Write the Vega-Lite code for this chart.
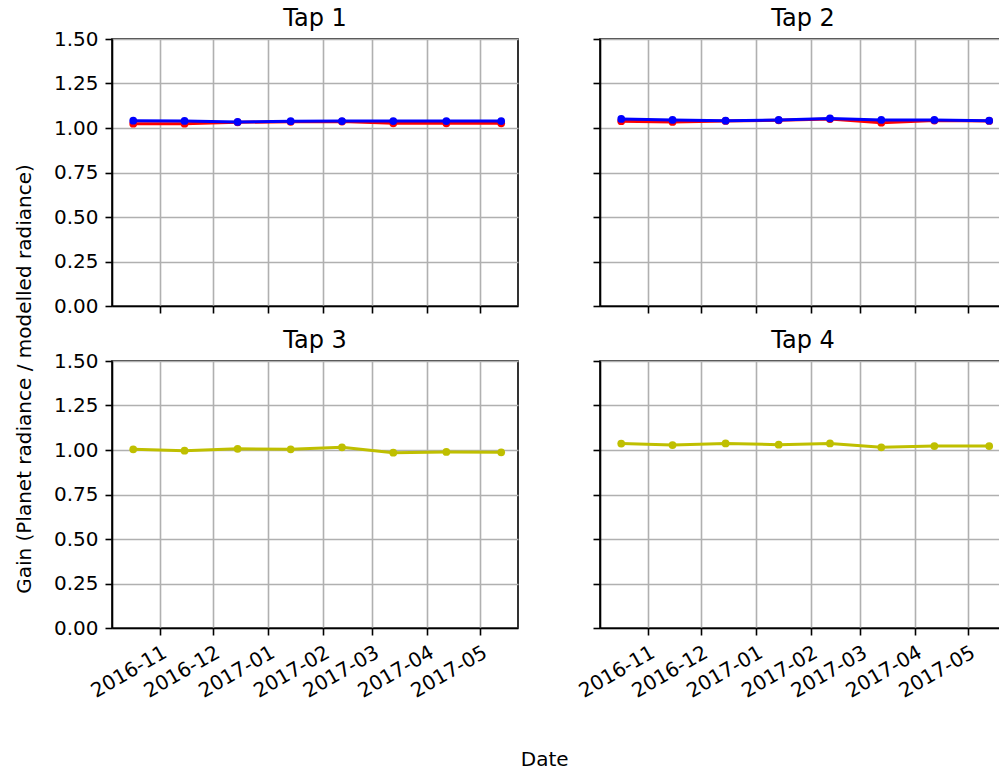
{
  "$schema": "https://vega.github.io/schema/vega-lite/v6.json",
  "padding": {"left": 14, "top": 6, "right": 0, "bottom": 0},
  "background": "white",
  "data": {"values": [
    {"tap": "Tap 1", "s": "r", "date": "2016-10-17", "gain": 1.024},
    {"tap": "Tap 1", "s": "r", "date": "2016-11-15", "gain": 1.024},
    {"tap": "Tap 1", "s": "r", "date": "2016-12-15", "gain": 1.032},
    {"tap": "Tap 1", "s": "r", "date": "2017-01-14", "gain": 1.035},
    {"tap": "Tap 1", "s": "r", "date": "2017-02-12", "gain": 1.036},
    {"tap": "Tap 1", "s": "r", "date": "2017-03-13", "gain": 1.026},
    {"tap": "Tap 1", "s": "r", "date": "2017-04-12", "gain": 1.026},
    {"tap": "Tap 1", "s": "r", "date": "2017-05-13", "gain": 1.026},
    {"tap": "Tap 1", "s": "b", "date": "2016-10-17", "gain": 1.041},
    {"tap": "Tap 1", "s": "b", "date": "2016-11-15", "gain": 1.040},
    {"tap": "Tap 1", "s": "b", "date": "2016-12-15", "gain": 1.034},
    {"tap": "Tap 1", "s": "b", "date": "2017-01-14", "gain": 1.038},
    {"tap": "Tap 1", "s": "b", "date": "2017-02-12", "gain": 1.039},
    {"tap": "Tap 1", "s": "b", "date": "2017-03-13", "gain": 1.039},
    {"tap": "Tap 1", "s": "b", "date": "2017-04-12", "gain": 1.039},
    {"tap": "Tap 1", "s": "b", "date": "2017-05-13", "gain": 1.039},
    {"tap": "Tap 2", "s": "r", "date": "2016-10-17", "gain": 1.038},
    {"tap": "Tap 2", "s": "r", "date": "2016-11-15", "gain": 1.034},
    {"tap": "Tap 2", "s": "r", "date": "2016-12-15", "gain": 1.040},
    {"tap": "Tap 2", "s": "r", "date": "2017-01-14", "gain": 1.043},
    {"tap": "Tap 2", "s": "r", "date": "2017-02-12", "gain": 1.050},
    {"tap": "Tap 2", "s": "r", "date": "2017-03-13", "gain": 1.030},
    {"tap": "Tap 2", "s": "r", "date": "2017-04-12", "gain": 1.042},
    {"tap": "Tap 2", "s": "r", "date": "2017-05-13", "gain": 1.040},
    {"tap": "Tap 2", "s": "b", "date": "2016-10-17", "gain": 1.051},
    {"tap": "Tap 2", "s": "b", "date": "2016-11-15", "gain": 1.045},
    {"tap": "Tap 2", "s": "b", "date": "2016-12-15", "gain": 1.041},
    {"tap": "Tap 2", "s": "b", "date": "2017-01-14", "gain": 1.045},
    {"tap": "Tap 2", "s": "b", "date": "2017-02-12", "gain": 1.054},
    {"tap": "Tap 2", "s": "b", "date": "2017-03-13", "gain": 1.045},
    {"tap": "Tap 2", "s": "b", "date": "2017-04-12", "gain": 1.045},
    {"tap": "Tap 2", "s": "b", "date": "2017-05-13", "gain": 1.041},
    {"tap": "Tap 3", "s": "y", "date": "2016-10-17", "gain": 1.004},
    {"tap": "Tap 3", "s": "y", "date": "2016-11-15", "gain": 0.996},
    {"tap": "Tap 3", "s": "y", "date": "2016-12-15", "gain": 1.007},
    {"tap": "Tap 3", "s": "y", "date": "2017-01-14", "gain": 1.004},
    {"tap": "Tap 3", "s": "y", "date": "2017-02-12", "gain": 1.015},
    {"tap": "Tap 3", "s": "y", "date": "2017-03-13", "gain": 0.985},
    {"tap": "Tap 3", "s": "y", "date": "2017-04-12", "gain": 0.989},
    {"tap": "Tap 3", "s": "y", "date": "2017-05-13", "gain": 0.987},
    {"tap": "Tap 4", "s": "y", "date": "2016-10-17", "gain": 1.036},
    {"tap": "Tap 4", "s": "y", "date": "2016-11-15", "gain": 1.028},
    {"tap": "Tap 4", "s": "y", "date": "2016-12-15", "gain": 1.037},
    {"tap": "Tap 4", "s": "y", "date": "2017-01-14", "gain": 1.030},
    {"tap": "Tap 4", "s": "y", "date": "2017-02-12", "gain": 1.037},
    {"tap": "Tap 4", "s": "y", "date": "2017-03-13", "gain": 1.015},
    {"tap": "Tap 4", "s": "y", "date": "2017-04-12", "gain": 1.022},
    {"tap": "Tap 4", "s": "y", "date": "2017-05-13", "gain": 1.022}
  ]},
  "title": {"text": "Date", "orient": "bottom", "anchor": "middle", "fontSize": 20, "offset": 48, "dx": 34},
  "vconcat": [
    {
      "title": {"text": "Gain (Planet radiance / modelled radiance)", "orient": "left", "anchor": "middle", "fontSize": 20, "offset": 18, "dx": -25},
      "columns": 2,
      "spacing": {"row": 55, "column": 82},
      "bounds": "flush",
      "concat": [
        {
          "width": 406, "height": 267,
          "title": "Tap 1",
          "transform": [{"filter": "datum.tap === 'Tap 1'"}],
          "encoding": {
            "x": {"field": "date", "type": "temporal",
              "scale": {"type": "utc", "domain": [{"year": 2016, "month": 10, "date": 5, "utc": true}, {"year": 2017, "month": 5, "date": 22, "hours": 12, "utc": true}]},
              "axis": {"title": null, "labels": false, "values": [{"year": 2016, "month": 11, "date": 1, "utc": true}, {"year": 2016, "month": 12, "date": 1, "utc": true}, {"year": 2017, "month": 1, "date": 1, "utc": true}, {"year": 2017, "month": 2, "date": 1, "utc": true}, {"year": 2017, "month": 3, "date": 1, "utc": true}, {"year": 2017, "month": 4, "date": 1, "utc": true}, {"year": 2017, "month": 5, "date": 1, "utc": true}]}},
            "y": {"field": "gain", "type": "quantitative", "scale": {"domain": [0, 1.5], "nice": false, "zero": false},
              "axis": {"title": null, "values": [0, 0.25, 0.5, 0.75, 1, 1.25, 1.5], "format": ".2f"}}
          },
          "layer": [
            {"transform": [{"filter": "datum.s === 'r'"}], "mark": {"type": "line", "color": "#ff0000", "strokeWidth": 3}},
            {"transform": [{"filter": "datum.s === 'r'"}], "mark": {"type": "point", "filled": true, "opacity": 1, "size": 60, "color": "#ff0000"}},
            {"transform": [{"filter": "datum.s === 'b'"}], "mark": {"type": "line", "color": "#0000ff", "strokeWidth": 3}},
            {"transform": [{"filter": "datum.s === 'b'"}], "mark": {"type": "point", "filled": true, "opacity": 1, "size": 60, "color": "#0000ff"}}
          ]
        },
        {
          "width": 406, "height": 267,
          "title": "Tap 2",
          "transform": [{"filter": "datum.tap === 'Tap 2'"}],
          "encoding": {
            "x": {"field": "date", "type": "temporal",
              "scale": {"type": "utc", "domain": [{"year": 2016, "month": 10, "date": 5, "utc": true}, {"year": 2017, "month": 5, "date": 22, "hours": 12, "utc": true}]},
              "axis": {"title": null, "labels": false, "values": [{"year": 2016, "month": 11, "date": 1, "utc": true}, {"year": 2016, "month": 12, "date": 1, "utc": true}, {"year": 2017, "month": 1, "date": 1, "utc": true}, {"year": 2017, "month": 2, "date": 1, "utc": true}, {"year": 2017, "month": 3, "date": 1, "utc": true}, {"year": 2017, "month": 4, "date": 1, "utc": true}, {"year": 2017, "month": 5, "date": 1, "utc": true}]}},
            "y": {"field": "gain", "type": "quantitative", "scale": {"domain": [0, 1.5], "nice": false, "zero": false},
              "axis": {"title": null, "labelOpacity": 0, "format": ".2f", "values": [0, 0.25, 0.5, 0.75, 1, 1.25, 1.5]}}
          },
          "layer": [
            {"transform": [{"filter": "datum.s === 'r'"}], "mark": {"type": "line", "color": "#ff0000", "strokeWidth": 3}},
            {"transform": [{"filter": "datum.s === 'r'"}], "mark": {"type": "point", "filled": true, "opacity": 1, "size": 60, "color": "#ff0000"}},
            {"transform": [{"filter": "datum.s === 'b'"}], "mark": {"type": "line", "color": "#0000ff", "strokeWidth": 3}},
            {"transform": [{"filter": "datum.s === 'b'"}], "mark": {"type": "point", "filled": true, "opacity": 1, "size": 60, "color": "#0000ff"}}
          ]
        },
        {
          "width": 406, "height": 267,
          "title": "Tap 3",
          "transform": [{"filter": "datum.tap === 'Tap 3'"}],
          "encoding": {
            "x": {"field": "date", "type": "temporal",
              "scale": {"type": "utc", "domain": [{"year": 2016, "month": 10, "date": 5, "utc": true}, {"year": 2017, "month": 5, "date": 22, "hours": 12, "utc": true}]},
              "axis": {"title": null, "labelExpr": "utcFormat(datum.value, '%Y-%m')", "labelAngle": -30, "labelAlign": "right", "labelBaseline": "top", "values": [{"year": 2016, "month": 11, "date": 1, "utc": true}, {"year": 2016, "month": 12, "date": 1, "utc": true}, {"year": 2017, "month": 1, "date": 1, "utc": true}, {"year": 2017, "month": 2, "date": 1, "utc": true}, {"year": 2017, "month": 3, "date": 1, "utc": true}, {"year": 2017, "month": 4, "date": 1, "utc": true}, {"year": 2017, "month": 5, "date": 1, "utc": true}]}},
            "y": {"field": "gain", "type": "quantitative", "scale": {"domain": [0, 1.5], "nice": false, "zero": false},
              "axis": {"title": null, "values": [0, 0.25, 0.5, 0.75, 1, 1.25, 1.5], "format": ".2f"}}
          },
          "layer": [
            {"transform": [{"filter": "datum.s === 'y'"}], "mark": {"type": "line", "color": "#bfbf00", "strokeWidth": 3}},
            {"transform": [{"filter": "datum.s === 'y'"}], "mark": {"type": "point", "filled": true, "opacity": 1, "size": 60, "color": "#bfbf00"}}
          ]
        },
        {
          "width": 406, "height": 267,
          "title": "Tap 4",
          "transform": [{"filter": "datum.tap === 'Tap 4'"}],
          "encoding": {
            "x": {"field": "date", "type": "temporal",
              "scale": {"type": "utc", "domain": [{"year": 2016, "month": 10, "date": 5, "utc": true}, {"year": 2017, "month": 5, "date": 22, "hours": 12, "utc": true}]},
              "axis": {"title": null, "labelExpr": "utcFormat(datum.value, '%Y-%m')", "labelAngle": -30, "labelAlign": "right", "labelBaseline": "top", "values": [{"year": 2016, "month": 11, "date": 1, "utc": true}, {"year": 2016, "month": 12, "date": 1, "utc": true}, {"year": 2017, "month": 1, "date": 1, "utc": true}, {"year": 2017, "month": 2, "date": 1, "utc": true}, {"year": 2017, "month": 3, "date": 1, "utc": true}, {"year": 2017, "month": 4, "date": 1, "utc": true}, {"year": 2017, "month": 5, "date": 1, "utc": true}]}},
            "y": {"field": "gain", "type": "quantitative", "scale": {"domain": [0, 1.5], "nice": false, "zero": false},
              "axis": {"title": null, "labelOpacity": 0, "format": ".2f", "values": [0, 0.25, 0.5, 0.75, 1, 1.25, 1.5]}}
          },
          "layer": [
            {"transform": [{"filter": "datum.s === 'y'"}], "mark": {"type": "line", "color": "#bfbf00", "strokeWidth": 3}},
            {"transform": [{"filter": "datum.s === 'y'"}], "mark": {"type": "point", "filled": true, "opacity": 1, "size": 60, "color": "#bfbf00"}}
          ]
        }
      ]
    }
  ],
  "config": {
    "font": "DejaVu Sans",
    "view": {"stroke": "black", "strokeWidth": 1.6},
    "axis": {
      "domainColor": "black", "domainWidth": 1.6,
      "tickColor": "black", "tickWidth": 1.6, "tickSize": 7,
      "labelFont": "DejaVu Sans", "labelFontSize": 20, "labelColor": "black", "labelPadding": 7,
      "grid": true, "gridColor": "#b0b0b0", "gridWidth": 1.6, "labelOverlap": false, "labelFlush": false
    },
    "title": {"font": "DejaVu Sans", "fontSize": 24, "fontWeight": "normal", "color": "black", "offset": -2}
  }
}
